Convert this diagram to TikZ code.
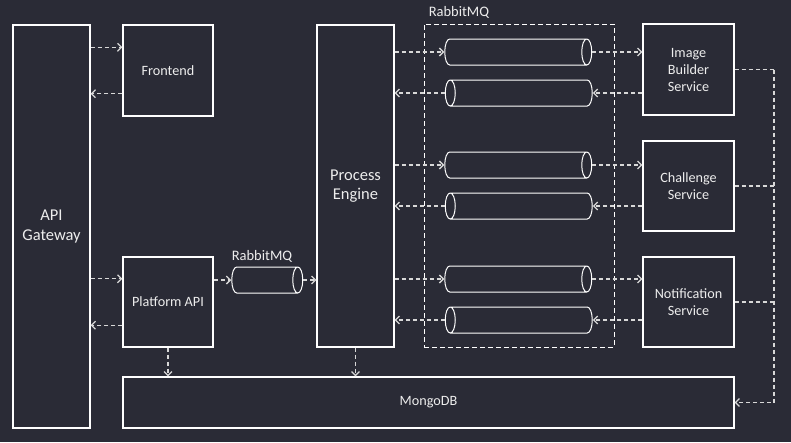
\documentclass[tikz,border=0pt]{standalone}
\usepackage{fontspec}
\setmainfont{Carlito}
\usetikzlibrary{arrows.meta,positioning,shapes.geometric}
\definecolor{bg}{HTML}{2A2B36}
\definecolor{wire}{HTML}{D8D8D8}
\definecolor{txt}{HTML}{EDEDED}

\begin{document}
\begin{tikzpicture}[
  x=1pt, y=-1pt,
  box/.style={draw=white, line width=1.1pt, fill=bg, text=txt, align=center, inner sep=2pt, font=\fontsize{14.2}{17}\selectfont},
  bigbox/.style={box, font=\fontsize{16.5}{19.5}\selectfont},
  queue/.style={cylinder, draw=white, line width=1pt, fill=bg, aspect=0.4, minimum height=147pt, minimum width=26pt, inner xsep=0pt, inner ysep=12.5pt},
  backqueue/.style={queue, shape border rotate=180},
  lbl/.style={text=txt, inner sep=1pt, font=\fontsize{14.5}{17}\selectfont},
  link/.style={draw=wire, line width=1.3pt, dash pattern=on 4pt off 3pt},
  arr/.style={link, -{Straight Barb[length=4pt,width=8pt]}}
]

% Canvas
\fill[bg] (0,0) rectangle (791,442);
\useasboundingbox (0,0) rectangle (791,442);

% Left column
\node[bigbox, minimum width=77pt, minimum height=403pt] (gw) at (51.5,226.5) {API\\Gateway};
\node[box, minimum width=90pt, minimum height=91pt] (fe) at (168,70.5) {Frontend};
\node[box, minimum width=90pt, minimum height=90pt] (pa) at (168,302) {Platform API};

% Process engine and its queue
\node[queue, minimum height=71pt] (rmq) at (262,280) {};
\node[lbl, above=3pt of rmq] (rmqlbl) {RabbitMQ};
\node[bigbox, minimum width=77pt, minimum height=322pt] (pe) at (355.5,186) {Process\\Engine};

% RabbitMQ group with queues
\node[draw=white, line width=0.9pt, dash pattern=on 5pt off 3pt, minimum width=190pt, minimum height=323pt, inner sep=0pt] (mq) at (519,185.5) {};
\node[lbl, anchor=south west] (mqlbl) at ([xshift=4pt,yshift=4pt]mq.north west) {RabbitMQ};
\node[queue] (q1) at (513,52) {};
\node[backqueue, below=14pt of q1, xshift=11pt] (q2) {};
\node[queue] (q3) at (513,165) {};
\node[backqueue, below=14pt of q3, xshift=11pt] (q4) {};
\node[queue] (q5) at (513,279) {};
\node[backqueue, below=14pt of q5, xshift=11pt] (q6) {};

% Services
\node[box, minimum width=91pt, minimum height=91pt] (ib) at (688.5,69.5) {Image\\Builder\\Service};
\node[box, minimum width=91pt, minimum height=90pt] (cs) at (688.5,186) {Challenge\\Service};
\node[box, minimum width=91pt, minimum height=90pt] (ns) at (688.5,302) {Notification\\Service};

% Database
\node[box, minimum width=611pt, minimum height=51pt] (db) at (428.5,402.5) {MongoDB};
\coordinate (bus) at (774,69.5);

% Gateway links
\draw[arr] (gw.east |- fe.153) -- (fe.153);
\draw[arr] (fe.207) -- (gw.east |- fe.207);
\draw[arr] (gw.east |- pa.153) -- (pa.153);
\draw[arr] (pa.207) -- (gw.east |- pa.207);

% Platform API to engine
\draw[arr] (pa.east |- rmq.west) -- (rmq.west);
\draw[arr] (rmq.east) -- (pe.west |- rmq.east);

% Engine to services and back
\foreach \s/\a/\b in {ib/q1/q2, cs/q3/q4, ns/q5/q6}{
  \draw[arr] (pe.east |- \a.west) -- (\a.west);
  \draw[arr] (\a.east) -- (\s.west |- \a.east);
  \draw[arr] (\s.west |- \b.east) -- (\b.east);
  \draw[arr] (\b.west) -- (pe.east |- \b.west);
}

% Storage
\draw[arr] (pa.south) -- (pa.south |- db.north);
\draw[arr] (pe.south) -- (pe.south |- db.north);
\draw[link] (ib.east) -- (bus);
\draw[link] (cs.east) -- (cs.east -| bus);
\draw[link] (ns.east) -- (ns.east -| bus);
\draw[arr] (bus) |- (db.east);

\end{tikzpicture}
\end{document}
